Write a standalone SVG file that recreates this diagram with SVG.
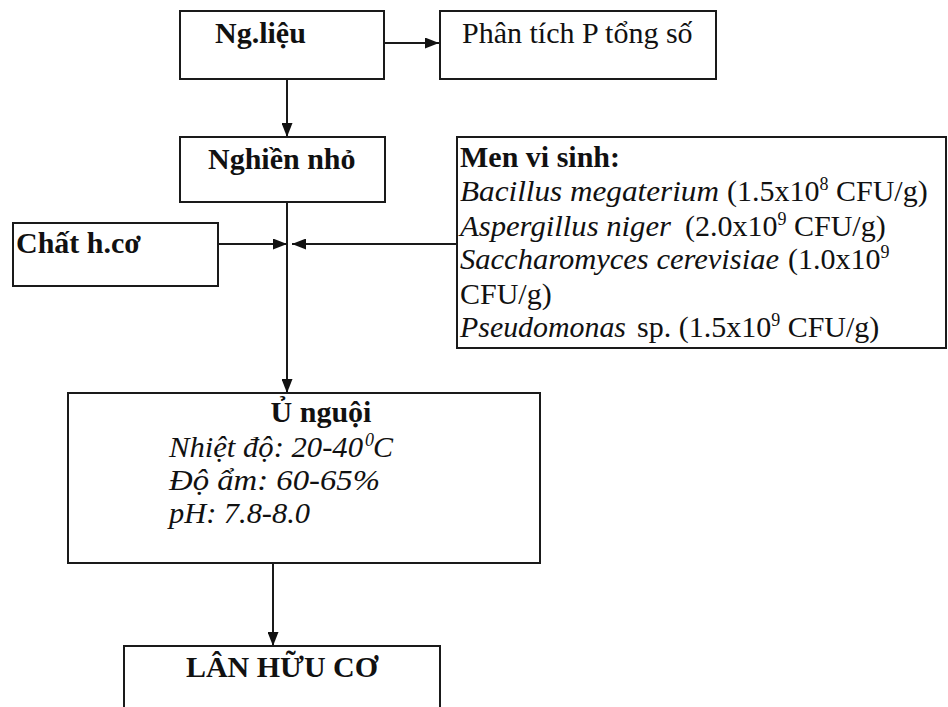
<svg xmlns="http://www.w3.org/2000/svg" width="948" height="707" viewBox="0 0 948 707">
  <style>
    .box { fill: #fff; stroke: #1a1a1a; stroke-width: 2; }
    .ln { fill: none; stroke: #1a1a1a; stroke-width: 2; }
    text { font-family: "Liberation Serif", "Times New Roman", serif; fill: #111; font-size: 30px; }
    .b { font-weight: bold; }
    .i { font-style: italic; }
    .sup { font-size: 18px; }
  </style>
  <defs>
    <marker id="arr" viewBox="0 0 14 11" refX="14" refY="5.5" markerWidth="14" markerHeight="11" markerUnits="userSpaceOnUse" orient="auto">
      <path d="M0,0 L14,5.5 L0,11 Z" fill="#111"/>
    </marker>
  </defs>
  <rect width="948" height="707" fill="#fff"/>

  <g id="connectors">
    <line class="ln" x1="384" y1="43" x2="439" y2="43" marker-end="url(#arr)"/>
    <line class="ln" x1="287" y1="79" x2="287" y2="137" marker-end="url(#arr)"/>
    <line class="ln" x1="287" y1="202" x2="287" y2="393" marker-end="url(#arr)"/>
    <line class="ln" x1="218" y1="244" x2="287" y2="244" marker-end="url(#arr)"/>
    <line class="ln" x1="457" y1="244" x2="292" y2="244" marker-end="url(#arr)"/>
    <line class="ln" x1="273" y1="563" x2="273" y2="646" marker-end="url(#arr)"/>
  </g>

  <g id="ng-lieu">
    <rect class="box" x="180" y="11" width="204" height="68"/>
    <text class="b" x="215" y="43">Ng.liệu</text>
  </g>

  <g id="phan-tich">
    <rect class="box" x="440" y="11" width="276" height="68"/>
    <text x="462" y="43">Phân tích P tổng số</text>
  </g>

  <g id="nghien-nho">
    <rect class="box" x="180" y="137" width="205" height="65"/>
    <text class="b" x="208" y="169">Nghiền nhỏ</text>
  </g>

  <g id="chat-huu-co">
    <rect class="box" x="13" y="223" width="205" height="63"/>
    <text class="b" x="16" y="253">Chất h.cơ</text>
  </g>

  <g id="men-vi-sinh">
    <rect class="box" x="457" y="137" width="489" height="211"/>
    <text class="b" x="460" y="167">Men vi sinh:</text>
    <text class="i" x="460" y="201" textLength="259" lengthAdjust="spacingAndGlyphs">Bacillus megaterium</text>
    <text x="727" y="201">(1.5x10<tspan class="sup" dy="-11">8</tspan><tspan dy="11"> CFU/g)</tspan></text>
    <text class="i" x="460" y="236" textLength="211" lengthAdjust="spacingAndGlyphs">Aspergillus niger</text>
    <text x="685" y="236">(2.0x10<tspan class="sup" dy="-11">9</tspan><tspan dy="11"> CFU/g)</tspan></text>
    <text class="i" x="460" y="269" textLength="319" lengthAdjust="spacingAndGlyphs">Saccharomyces cerevisiae</text>
    <text x="788" y="269">(1.0x10<tspan class="sup" dy="-11">9</tspan></text>
    <text x="460" y="304">CFU/g)</text>
    <text class="i" x="460" y="337" textLength="166" lengthAdjust="spacingAndGlyphs">Pseudomonas</text>
    <text x="637" y="337">sp. (1.5x10<tspan class="sup" dy="-11">9</tspan><tspan dy="11"> CFU/g)</tspan></text>
  </g>

  <g id="u-nguoi">
    <rect class="box" x="68" y="393" width="472" height="170"/>
    <text class="b" x="321" y="422" text-anchor="middle">Ủ nguội</text>
    <text class="i" x="169" y="457" textLength="194" lengthAdjust="spacingAndGlyphs">Nhiệt độ: 20-40</text>
    <text class="i sup" x="365" y="446">0</text>
    <text class="i" x="373" y="457">C</text>
    <text class="i" x="169" y="490" textLength="211" lengthAdjust="spacingAndGlyphs">Độ ẩm: 60-65%</text>
    <text class="i" x="169" y="523" textLength="141" lengthAdjust="spacingAndGlyphs">pH: 7.8-8.0</text>
  </g>

  <g id="lan-huu-co">
    <rect class="box" x="124" y="646" width="316" height="80"/>
    <text class="b" x="282" y="677" text-anchor="middle">LÂN HỮU CƠ</text>
  </g>
</svg>
